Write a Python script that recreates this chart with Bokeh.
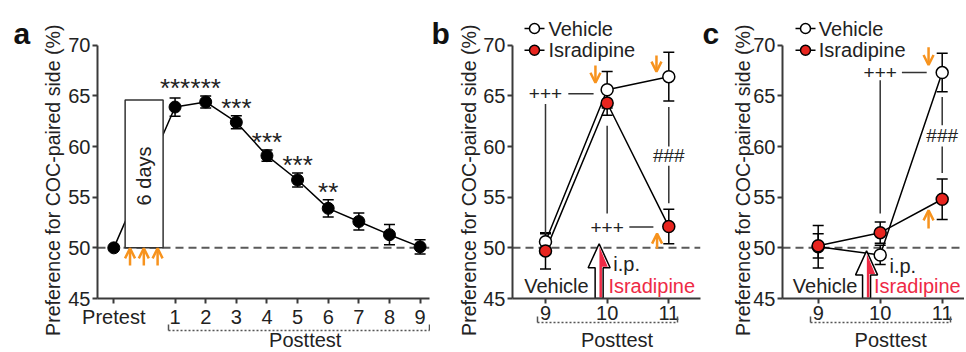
import math
from bokeh.plotting import figure
from bokeh.models import (Range1d, FixedTicker, LinearAxis, Whisker, ColumnDataSource, Span,
                          Arrow, OpenHead, TeeHead)
from bokeh.layouts import row
from bokeh.embed import file_html
from bokeh.resources import INLINE
from bokeh.core.properties import value

FONT = "Liberation Sans"
ORANGE = "#f7931e"
RED = "#e8251f"
RED_TXT = "#ee2a45"
AX = "#3a3a3a"
FS = "20px"
YLAB = "Preference for COC-paired side (%)"

# ---------------- data ----------------
a_x = [-1, 1, 2, 3, 4, 5, 6, 7, 8, 9]
a_labels = ["Pretest", "1", "2", "3", "4", "5", "6", "7", "8", "9"]
a_mean = [50.0, 63.9, 64.4, 62.4, 59.1, 56.7, 53.9, 52.6, 51.3, 50.1]
a_err = [0.0, 0.9, 0.6, 0.65, 0.55, 0.7, 0.85, 0.85, 1.0, 0.7]
a_stars = ["", "***", "***", "***", "***", "***", "**", "", "", ""]
a_box = (-0.63, 0.61, 50.0, 64.6)
a_inj_x = [-0.47, -0.02, 0.43]

bc_x = [9, 10, 11]
bc_labels = ["9", "10", "11"]
b_veh = [50.6, 65.6, 66.9]
b_veh_err = [0.8, 1.8, 2.4]
b_isr = [49.7, 64.3, 52.1]
b_isr_err = [1.8, 1.2, 1.7]
c_veh = [50.1, 49.3, 67.3]
c_veh_err = [2.1, 0.95, 1.9]
c_isr = [50.2, 51.5, 54.8]
c_isr_err = [1.2, 1.05, 2.0]

# ---------------- geometry ----------------
YPX = 10.13
FRAME_H = 298
Y0 = 45.0
Y1 = Y0 + FRAME_H / YPX


def ypx(py):
    """page pixel row -> data value"""
    return Y0 + (298.3 - py) / YPX


def txt(p, x, y, s, align="center", color="#222222", size=FS, baseline="middle",
        angle=0, level="glyph", style="normal"):
    p.text(x=x, y=y, text=s, text_font=value(FONT), text_font_size=size,
           text_align=align, text_baseline=baseline, text_color=color, angle=angle,
           text_font_style=style, level=level)


def outer_texts(p, letter_x, letter_y, post_x, ylab_x):
    # texts that sit outside the data frame (drawn at overlay level so they are not clipped)
    txt(p, [letter_x], [letter_y], [letter_x and None or None][0:0] or [""], level="overlay")


def base_fig(fw, x0, x1, left, right, xticks, overrides, bracket):
    p = figure(frame_width=fw, frame_height=FRAME_H,
               x_range=Range1d(x0, x1), y_range=Range1d(Y0, Y1),
               output_backend="svg", toolbar_location=None,
               min_border_left=left, min_border_right=right,
               min_border_top=0, min_border_bottom=54,
               background_fill_color="white", border_fill_color="white",
               outline_line_color=None)
    p.grid.visible = False
    yax = p.yaxis[0]
    yax.ticker = FixedTicker(ticks=[45, 50, 55, 60, 65, 70])
    yax.bounds = (45, 70)
    for ax in (yax, p.xaxis[0]):
        ax.axis_line_color = AX
        ax.axis_line_width = 2
        ax.major_tick_line_color = AX
        ax.major_tick_line_width = 2
        ax.major_tick_out = 5
        ax.major_tick_in = 0
        ax.minor_tick_line_color = None
        ax.major_label_text_font = FONT
        ax.major_label_text_font_size = FS
        ax.major_label_text_color = "#222222"
        ax.major_label_standoff = 2
    xax = p.xaxis[0]
    xax.ticker = FixedTicker(ticks=xticks)
    if overrides:
        xax.major_label_overrides = overrides
    b0, b1 = bracket
    t0, t1 = b0 + 1e-3, b1 - 1e-3
    br = LinearAxis(bounds=(b0, b1), ticker=FixedTicker(ticks=[t0, t1]),
                    axis_line_color="#555555", axis_line_width=1.5, axis_line_dash="2 2",
                    major_tick_in=6, major_tick_out=0, major_tick_line_color="#555555",
                    major_tick_line_width=1.5, minor_tick_line_color=None,
                    major_label_overrides={t0: "", t1: ""},
                    major_label_text_font_size="10px", major_label_standoff=0)
    p.add_layout(br, "below")
    p.add_layout(Span(location=50, dimension="width", line_dash="8 5",
                      line_color="#5a5a5a", line_width=2, level="underlay"))
    return p


def frame_texts(p, letter, letter_x, post_x, ylab_x):
    txt(p, [letter_x], [ypx(33)], [letter], size="30px", align="left",
        baseline="alphabetic", level="overlay", style="bold", color="#111111")
    txt(p, [post_x], [ypx(340)], ["Posttest"], level="overlay")
    txt(p, [ylab_x], [ypx(180)], [YLAB], size="19.6px", angle=math.pi / 2, level="overlay")


def whiskers(p, xs, m, e):
    src = ColumnDataSource(dict(x=xs, up=[a + b for a, b in zip(m, e)],
                                lo=[a - b for a, b in zip(m, e)]))
    p.add_layout(Whisker(source=src, base="x", upper="up", lower="lo",
                         line_color="black", line_width=1.5,
                         upper_head=TeeHead(size=11, line_color="black", line_width=1.5),
                         lower_head=TeeHead(size=11, line_color="black", line_width=1.5)))


def orange_arrows(p, xs, ys, xe, ye):
    src = ColumnDataSource(dict(xs=xs, ys=ys, xe=xe, ye=ye))
    p.add_layout(Arrow(end=OpenHead(size=10, line_color=ORANGE, line_width=2.5),
                       x_start="xs", y_start="ys", x_end="xe", y_end="ye",
                       line_color=ORANGE, line_width=2.5, source=src))


def ip_arrow(p, xt, yt, kx):
    hh, hw, sw = 24 / YPX, 11 / kx, 4 / kx
    xs = [xt, xt + hw, xt + sw, xt + sw, xt - sw, xt - sw, xt - hw]
    ys = [yt, yt - hh, yt - hh, Y0, Y0, yt - hh, yt - hh]
    p.patch(xs, ys, fill_color="white", line_color="black", line_width=1.5)
    d = 1.2 / kx
    rxs = [xt + 0.3 / kx, xt + hw - 2 * d, xt + sw - d, xt + sw - d, xt + 0.3 / kx]
    rys = [yt - 3 / YPX, yt - hh + 1 / YPX, yt - hh + 1 / YPX, Y0 + 0.1, Y0 + 0.1]
    p.patch(rxs, rys, fill_color=RED_TXT, line_color=None)


def manual_legend(p, xm, xt, k):
    ys = [ypx(28.3), ypx(50)]
    dx = 10 / k
    p.segment(x0=[xm - dx] * 2, y0=ys, x1=[xm + dx] * 2, y1=ys, line_color="black", line_width=1.5)
    p.scatter([xm, xm], ys, size=10, fill_color=["white", RED], line_color="black", line_width=1.5)
    txt(p, [xt, xt], ys, ["Vehicle", "Isradipine"], align="left")


# ---------------- panel a ----------------
KA = 30.63
XA0 = -1 - (113.3 - 97) / KA
pa = base_fig(332, XA0, XA0 + 332 / KA, 97, 1, a_x, {-1: "Pretest"}, (0.77, 9.3))
pa.line(a_x, a_mean, line_color="black", line_width=1.5)
bx0, bx1, by0, by1 = a_box
pa.quad(left=[bx0], right=[bx1], bottom=[by0], top=[by1], fill_color="white",
        line_color="#333333", line_width=1.5)
txt(pa, [(bx0 + bx1) / 2], [57.1], ["6 days"], angle=math.pi / 2)
whiskers(pa, a_x[1:], a_mean[1:], a_err[1:])
pa.scatter(a_x, a_mean, size=12, fill_color="black", line_color="black")
sx = [x for x, s in zip(a_x, a_stars) if s]
sy = [m + e + 0.8 for m, e, s in zip(a_mean, a_err, a_stars) if s]
sy[0] = sy[1] = max(sy[0], sy[1])
txt(pa, sx, sy, [s for s in a_stars if s], size="26px")
orange_arrows(pa, a_inj_x, [48.25] * 3, a_inj_x, [49.95] * 3)
frame_texts(pa, "a", -1 + (13 - 113.3) / KA, 5.25, -1 + (52 - 113.3) / KA)

# ---------------- panel b ----------------
KB = 61.65
XB0 = 9 - (545 - 512) / KB
pb = base_fig(188, XB0, XB0 + 188 / KB, 82, 1, bc_x, None, (8.865, 11.136))
pb.line(bc_x, b_veh, line_color="black", line_width=1.5)
pb.line(bc_x, b_isr, line_color="black", line_width=1.5)
whiskers(pb, bc_x, b_veh, b_veh_err)
whiskers(pb, bc_x, b_isr, b_isr_err)
pb.scatter(bc_x, b_veh, size=12, fill_color="white", line_color="black", line_width=1.5)
pb.scatter(bc_x, b_isr, size=12, fill_color=RED, line_color="black", line_width=1.5)
manual_legend(pb, 9 + (534 - 545) / KB, 9 + (548 - 545) / KB, KB)
pb.segment(x0=[9, 9.37, 10, 10.36, 11, 11], y0=[64.2, 65.2, 62.05, 52.05, 63.9, 58.1],
           x1=[9, 9.78, 10, 10.75, 11, 11], y1=[51.4, 65.2, 53.4, 52.05, 60.0, 54.4],
           line_color="#333333", line_width=1.5)
txt(pb, [9, 10], [65.2, 52.05], ["+++", "+++"], size="19px")
txt(pb, [11], [59.1], ["###"], size="19px")
orange_arrows(pb, [9.81, 10.8, 10.81], [68.0, 69.0, 49.9], [9.81, 10.8, 10.81], [66.3, 67.4, 51.4])
ip_arrow(pb, 9.87, 50.4, KB)
txt(pb, [10.1], [48.4], ["i.p."], align="left")
txt(pb, [9.70], [46.2], ["Vehicle"], align="right")
txt(pb, [10.02], [46.2], ["Isradipine"], align="left", color=RED_TXT)
frame_texts(pb, "b", 9 - (545 - 431) / KB, 10.16, 9 + (468 - 545) / KB)

# ---------------- panel c ----------------
KC = 62.0
XC0 = 9 - (817.7 - 782) / KC
pc = base_fig(182, XC0, XC0 + 182 / KC, 81, 0, bc_x, None, (8.876, 11.13))
pc.line(bc_x, c_veh, line_color="black", line_width=1.5)
pc.line(bc_x, c_isr, line_color="black", line_width=1.5)
whiskers(pc, bc_x, c_veh, c_veh_err)
whiskers(pc, bc_x, c_isr, c_isr_err)
pc.scatter(bc_x, c_veh, size=12, fill_color="white", line_color="black", line_width=1.5)
pc.scatter(bc_x, c_isr, size=12, fill_color=RED, line_color="black", line_width=1.5)
manual_legend(pc, 9 + (805 - 817.7) / KC, 9 + (818.3 - 817.7) / KC, KC)
pc.segment(x0=[10, 10.35, 11, 11], y0=[66.55, 67.3, 64.9, 60.0],
           x1=[10, 10.75, 11, 11], y1=[53.4, 67.3, 62.1, 57.4],
           line_color="#333333", line_width=1.5)
txt(pc, [10], [67.3], ["+++"], size="19px")
txt(pc, [11], [61.1], ["###"], size="19px")
orange_arrows(pc, [10.78, 10.78], [69.8, 51.9], [10.78, 10.78], [68.05, 53.7])
ip_arrow(pc, 9.78, 49.7, KC)
txt(pc, [10.15], [48.25], ["i.p."], align="left")
txt(pc, [9.63], [46.2], ["Vehicle"], align="right")
txt(pc, [9.90], [46.2], ["Isradipine"], align="left", color=RED_TXT)
frame_texts(pc, "c", 9 - (817.7 - 702) / KC, 10.17, 9 + (742 - 817.7) / KC)

layout = row(pa, pb, pc, spacing=0)
open("out.html", "w").write(file_html(layout, INLINE))
